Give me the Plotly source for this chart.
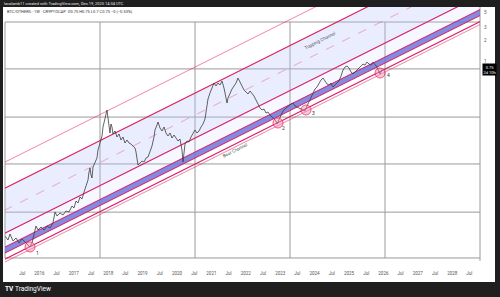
import math
import plotly.graph_objects as go

# ---- price ratio series (decimal year, value) ----
years = [2015.000, 2015.087, 2015.145, 2015.233, 2015.320, 2015.407, 2015.494, 2015.581, 2015.669, 2015.727,
         2015.785, 2015.843, 2015.901, 2015.959, 2016.047, 2016.134, 2016.221, 2016.308, 2016.395, 2016.454,
         2016.512, 2016.599, 2016.686, 2016.773, 2016.860, 2016.948, 2017.006, 2017.064, 2017.122, 2017.180,
         2017.238, 2017.297, 2017.355, 2017.413, 2017.442, 2017.471, 2017.500, 2017.529, 2017.558, 2017.616,
         2017.674, 2017.703, 2017.762, 2017.820, 2017.849, 2017.907, 2017.936, 2017.965, 2017.994, 2018.023,
         2018.052, 2018.081, 2018.110, 2018.140, 2018.198, 2018.256, 2018.314, 2018.372, 2018.430, 2018.488,
         2018.547, 2018.605, 2018.663, 2018.721, 2018.779, 2018.808, 2018.837, 2018.866, 2018.924, 2018.983,
         2019.041, 2019.099, 2019.157, 2019.215, 2019.273, 2019.331, 2019.360, 2019.419, 2019.448, 2019.506,
         2019.564, 2019.622, 2019.680, 2019.738, 2019.797, 2019.855, 2019.913, 2019.971, 2020.029, 2020.087,
         2020.145, 2020.174, 2020.204, 2020.233, 2020.291, 2020.349, 2020.407, 2020.465, 2020.523, 2020.581,
         2020.640, 2020.698, 2020.756, 2020.814, 2020.843, 2020.872, 2020.901, 2020.959, 2021.017, 2021.075,
         2021.134, 2021.192, 2021.250, 2021.308, 2021.366, 2021.395, 2021.424, 2021.454, 2021.483, 2021.541,
         2021.599, 2021.657, 2021.715, 2021.773, 2021.831, 2021.890, 2021.948, 2022.006, 2022.064, 2022.122,
         2022.180, 2022.238, 2022.297, 2022.355, 2022.413, 2022.471, 2022.529, 2022.587, 2022.645, 2022.704,
         2022.762, 2022.820, 2022.878, 2022.907, 2022.965, 2023.023, 2023.081, 2023.140, 2023.198, 2023.256,
         2023.314, 2023.372, 2023.430, 2023.488, 2023.547, 2023.605, 2023.663, 2023.721, 2023.779, 2023.837,
         2023.895, 2023.953, 2024.012, 2024.070, 2024.128, 2024.186, 2024.244, 2024.302, 2024.361, 2024.419,
         2024.477, 2024.535, 2024.593, 2024.651, 2024.709, 2024.768, 2024.826, 2024.884, 2024.942, 2025.000,
         2025.058, 2025.116, 2025.174, 2025.233, 2025.291, 2025.349, 2025.407, 2025.465, 2025.523, 2025.581,
         2025.640, 2025.698, 2025.756, 2025.814, 2025.872, 2025.901, 2025.959]

ratio = [0.003111, 0.002727, 0.003323, 0.002638, 0.002913, 0.002470, 0.002818, 0.002553, 0.002390, 0.002165,
         0.002470, 0.003216, 0.00433, 0.00379, 0.00419, 0.00379, 0.00433, 0.00405, 0.00478, 0.00687,
         0.00602, 0.00664, 0.00622, 0.00710, 0.00687, 0.00837, 0.00784, 0.00987, 0.00924, 0.01127,
         0.01055, 0.01328, 0.01619, 0.01973, 0.02569, 0.02932, 0.02327, 0.02108, 0.03030, 0.03457,
         0.04078, 0.05309, 0.06911, 0.08424, 0.1134, 0.1577, 0.1800, 0.1987, 0.1526, 0.1172,
         0.09300, 0.1252, 0.1134, 0.08998, 0.09934, 0.08151, 0.08998, 0.07383, 0.08151, 0.06687,
         0.07383, 0.06687, 0.06470, 0.06057, 0.05671, 0.04970, 0.04078, 0.03237, 0.03457, 0.03693,
         0.03573, 0.04078, 0.04214, 0.05136, 0.06057, 0.08151, 0.1027, 0.1211, 0.1337, 0.1097,
         0.09934, 0.1134, 0.09300, 0.08424, 0.09300, 0.07886, 0.08706, 0.07886, 0.07143, 0.07630,
         0.05309, 0.03573, 0.05309, 0.06470, 0.07143, 0.06911, 0.08151, 0.08998, 0.1027, 0.09300,
         0.09934, 0.1134, 0.1252, 0.1477, 0.1860, 0.2267, 0.2855, 0.3480, 0.4104, 0.4840,
         0.4384, 0.4840, 0.4531, 0.5170, 0.4104, 0.3367, 0.2855, 0.2502, 0.2951, 0.3480,
         0.3971, 0.4384, 0.4840, 0.5708, 0.5002, 0.4242, 0.3842, 0.3597, 0.3367, 0.3717,
         0.3480, 0.3152, 0.2762, 0.2343, 0.2122, 0.1987, 0.2053, 0.1800, 0.1860, 0.1685,
         0.1577, 0.1477, 0.1382, 0.1252, 0.1477, 0.1630, 0.1922, 0.2053, 0.2193, 0.2343,
         0.2421, 0.2502, 0.2267, 0.2193, 0.2122, 0.2053, 0.1987, 0.1922, 0.2267, 0.2586,
         0.2951, 0.3480, 0.3971, 0.4242, 0.4840, 0.5343, 0.5708, 0.5170, 0.4683, 0.4531,
         0.4840, 0.4242, 0.4531, 0.4840, 0.5170, 0.6097, 0.7432, 0.8205, 0.8480, 0.7939,
         0.6957, 0.6513, 0.6957, 0.7190, 0.7939, 0.8480, 0.9058, 0.8764, 0.9676, 0.9058,
         0.8764, 0.9676, 0.9058, 0.8205, 0.6957, 0.6513, 0.75]

# ---- parallel channel lines (value at start year, value at end year) ----
channel_years = [2014.5, 2029.5]
outer_top = [0.02689, 133.5]
topping_top = [0.011406, 56.64]
topping_mid = [0.005519, 27.41]
topping_bottom = [0.002585, 12.84]
band_top = [0.001629, 8.088]
band_bottom = [0.001336, 6.635]
support = [0.001096, 5.444]
support_low = [0.000993, 4.930]

# ---- touch points ----
touch_years = [2015.727, 2022.936, 2023.750, 2025.901]
touch_values = [0.00217, 0.1294, 0.1987, 0.6731]
touch_labels = ["1", "2", "3", "4"]

# ---- channel captions ----
caption_text = ["Topping Channel", "Bear Channel"]
caption_years = [2024.157, 2021.686]
caption_values = [2.0, 0.0514]

# ---- axis ticks ----
x_tick_vals = [2015 + 0.5 * i for i in range(28)]
x_tick_text = []
for i in range(28):
    x_tick_text.append(str(2015 + i // 2) if i % 2 == 0 else "Jul")
y_tick_vals = [1, 2, 3, 5]
y_tick_text = ["1", "2", "3", "5"]

last_price = 0.75

FONT = "Roboto"
MAG = "#d81b60"
PINK = "rgba(233,30,99,0.55)"

fig = go.Figure()

# fills
fig.add_trace(go.Scatter(x=channel_years, y=topping_top, mode="lines", line=dict(width=0), hoverinfo="skip"))
fig.add_trace(go.Scatter(x=channel_years, y=topping_bottom, mode="lines", line=dict(width=0),
                         fill="tonexty", fillcolor="rgba(185,195,250,0.30)", hoverinfo="skip"))
fig.add_trace(go.Scatter(x=channel_years, y=band_top, mode="lines", line=dict(width=0),
                         fill="tonexty", fillcolor="rgba(205,212,255,0.16)", hoverinfo="skip"))
fig.add_trace(go.Scatter(x=channel_years, y=band_bottom, mode="lines", line=dict(width=0),
                         fill="tonexty", fillcolor="rgba(110,118,218,0.85)", hoverinfo="skip"))

# lines
fig.add_trace(go.Scatter(x=channel_years, y=outer_top, mode="lines", line=dict(color=PINK, width=1)))
fig.add_trace(go.Scatter(x=channel_years, y=topping_top, mode="lines", line=dict(color=MAG, width=1.1)))
fig.add_trace(go.Scatter(x=channel_years, y=topping_mid, mode="lines",
                         line=dict(color="rgba(233,30,99,0.45)", width=0.8, dash="dash")))
fig.add_trace(go.Scatter(x=channel_years, y=topping_bottom, mode="lines", line=dict(color=MAG, width=1.1)))
fig.add_trace(go.Scatter(x=channel_years, y=band_top, mode="lines", line=dict(color=MAG, width=1)))
fig.add_trace(go.Scatter(x=channel_years, y=band_bottom, mode="lines", line=dict(color=MAG, width=1)))
fig.add_trace(go.Scatter(x=channel_years, y=support, mode="lines", line=dict(color=MAG, width=1.1)))
fig.add_trace(go.Scatter(x=channel_years, y=support_low, mode="lines", line=dict(color=PINK, width=1)))

# price
fig.add_trace(go.Scatter(x=years, y=ratio, mode="lines", line=dict(color="#3c3c3c", width=0.8)))

# touches
fig.add_trace(go.Scatter(x=touch_years, y=touch_values, mode="markers",
                         marker=dict(size=10, color="rgba(244,143,177,0.45)",
                                     line=dict(color="rgba(233,30,99,0.7)", width=1))))

annotations = []
label_shift = [(7, -6), (5, -5), (7, -3), (8, -2)]
for xv, yv, t, (dx, dy) in zip(touch_years, touch_values, touch_labels, label_shift):
    annotations.append(dict(x=xv, y=math.log10(yv), yref="y", xref="x", text=t, showarrow=False,
                            xshift=dx, yshift=dy, font=dict(size=5, color="#333", family=FONT)))

for t, xv, yv in zip(caption_text, caption_years, caption_values):
    annotations.append(dict(x=xv, y=math.log10(yv), xref="x", yref="y", text=t, showarrow=False,
                            textangle=-26.5, font=dict(size=4.5, color="#444", family=FONT)))

# price tag
annotations.append(dict(x=1.0, y=math.log10(last_price), xref="paper", yref="y", xanchor="left",
                        yanchor="middle", text="0.75<br>2d 10h", showarrow=False, bgcolor="#000",
                        borderpad=0.5, xshift=2, font=dict(size=4, color="#fff", family=FONT), align="center"))

# header / title / logo
annotations.append(dict(x=-0.0063, y=1.0154, xref="paper", yref="paper", xanchor="left", yanchor="middle",
                        text="lavalamb11 created with TradingView.com, Dec 19, 2025 14:34 UTC",
                        showarrow=False, font=dict(size=4, color="#e6e6e6", family=FONT)))
annotations.append(dict(x=0.0, y=0.9807, xref="paper", yref="paper", xanchor="left", yanchor="middle",
                        text="BTC/OTHERS · 1W · CRYPTOCAP  O0.75 H0.75 L0.7 C0.75 −0 (−0.53%)",
                        showarrow=False, font=dict(size=4, color="#333", family=FONT)))
annotations.append(dict(x=-0.0042, y=-0.0888, xref="paper", yref="paper", xanchor="left", yanchor="middle",
                        text="<b>TV</b>", showarrow=False, font=dict(size=6.5, color="#fff", family=FONT)))
annotations.append(dict(x=0.0168, y=-0.0888, xref="paper", yref="paper", xanchor="left", yanchor="middle",
                        text="TradingView", showarrow=False, font=dict(size=6.5, color="#fff", family=FONT)))

GRID = "#9a9a9a"
shapes = [dict(type="rect", xref="paper", yref="paper", x0=-0.0042, x1=1.0316, y0=-0.0618, y1=1.0,
               fillcolor="#ffffff", line=dict(width=0), layer="below")]
for gx in [0.0, 0.2, 0.4, 0.6, 0.8]:
    shapes.append(dict(type="line", xref="paper", yref="paper", x0=gx, x1=gx, y0=0.031, y1=0.942,
                       line=dict(color=GRID, width=1), layer="below"))
for gy in [0.942, 0.761, 0.575, 0.394, 0.208, 0.031]:
    shapes.append(dict(type="line", xref="paper", yref="paper", x0=0, x1=1, y0=gy, y1=gy,
                       line=dict(color=GRID, width=1), layer="below"))
shapes.append(dict(type="line", xref="paper", yref="paper", x0=1, x1=1, y0=0.02, y1=1.0,
                   line=dict(color=GRID, width=1), layer="below"))

fig.update_layout(
    width=500, height=297, margin=dict(l=5, r=20, t=7, b=31),
    paper_bgcolor="#1f1f1f", plot_bgcolor="rgba(0,0,0,0)",
    showlegend=False, shapes=shapes, annotations=annotations,
    font=dict(family=FONT),
    xaxis=dict(range=[2015.0, 2028.808], tickvals=x_tick_vals, ticktext=x_tick_text,
               showgrid=False, zeroline=False, showline=False, ticks="outside", ticklen=3,
               tickcolor="rgba(0,0,0,0)", tickfont=dict(size=4.5, color="#555")),
    yaxis=dict(type="log", side="right", range=[-2.937, 0.774], tickvals=y_tick_vals, ticktext=y_tick_text,
               showgrid=False, zeroline=False, showline=False, ticks="outside", ticklen=2,
               tickcolor="rgba(0,0,0,0)", tickfont=dict(size=4.5, color="#555")),
)

fig.write_html("out.html")
